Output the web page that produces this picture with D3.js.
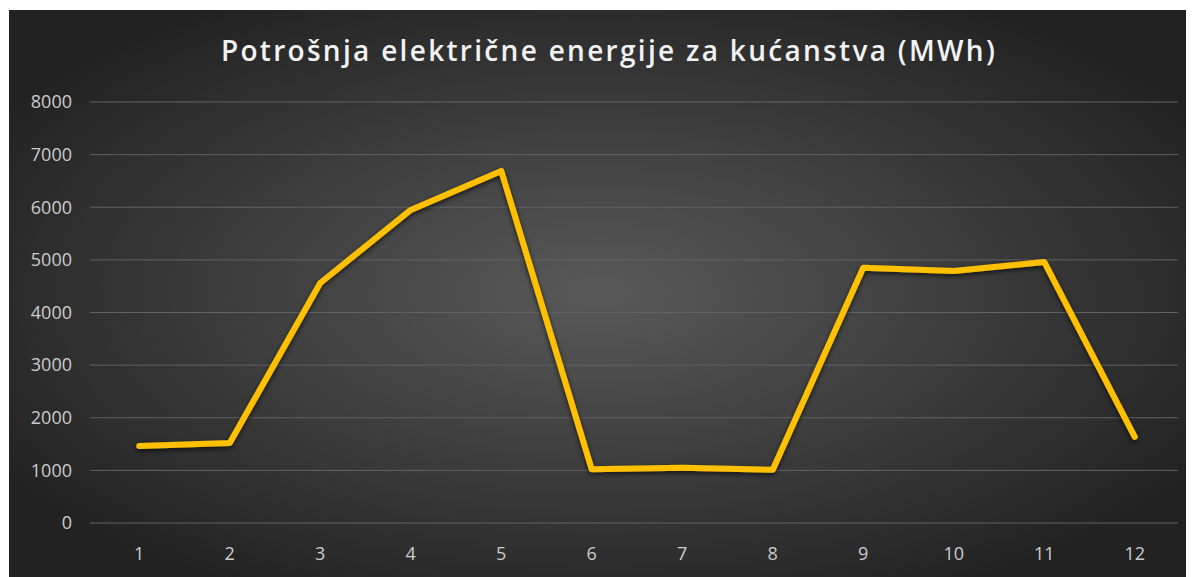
<!DOCTYPE html>
<html>
<head>
<meta charset="utf-8">
<script src="https://cdn.jsdelivr.net/npm/d3@7/dist/d3.min.js"></script>
<style>
  html, body { margin: 0; padding: 0; background: #fff; }
  svg { display: block; }
</style>
</head>
<body>
<div id="chart"></div>
<script>
// Monthly household electricity consumption (MWh)
const months = ['1', '2', '3', '4', '5', '6', '7', '8', '9', '10', '11', '12'];
const consumption = [1465, 1520, 4560, 5950, 6690, 1020, 1050, 1010, 4850, 4790, 4960, 1635];
const yTicks = [0, 1000, 2000, 3000, 4000, 5000, 6000, 7000, 8000];
const title = 'Potrošnja električne energije za kućanstva (MWh)';

const width = 1194, height = 577;
const margin = { top: 102, right: 14, bottom: 54, left: 94 };

const svg = d3.select('#chart')
    .append('svg')
    .attr('width', width)
    .attr('height', height);

const defs = svg.append('defs');

// Background gradient, lighter in the middle
const grad = defs.append('radialGradient')
    .attr('id', 'bg')
    .attr('cx', '50%').attr('cy', '50%').attr('r', '60%');
grad.append('stop').attr('offset', '0%').attr('stop-color', '#595959');
grad.append('stop').attr('offset', '100%').attr('stop-color', '#222222');

const shadow = defs.append('filter')
    .attr('id', 'shadow')
    .attr('x', '-10%').attr('y', '-10%').attr('width', '120%').attr('height', '130%');
shadow.append('feDropShadow')
    .attr('dx', 0).attr('dy', 2).attr('stdDeviation', 2.5)
    .attr('flood-color', '#000').attr('flood-opacity', 0.7);

svg.append('rect')
    .attr('x', 9).attr('y', 10)
    .attr('width', 1177).attr('height', height - 10)
    .attr('fill', 'url(#bg)');

const x = d3.scaleBand()
    .domain(months)
    .range([margin.left, width - margin.right]);

const y = d3.scaleLinear()
    .domain([0, 8000])
    .range([height - margin.bottom, margin.top]);

// Gridlines
svg.append('g')
    .selectAll('line')
    .data(yTicks)
    .join('line')
    .attr('x1', 90)
    .attr('x2', 1178)
    .attr('y1', d => y(d))
    .attr('y2', d => y(d))
    .attr('stroke', '#626262')
    .attr('stroke-width', 1);

// Y axis labels
const yAxis = svg.append('g')
    .attr('transform', `translate(${margin.left - 22},0)`)
    .call(d3.axisLeft(y).tickValues(yTicks).tickFormat(d3.format('d')).tickSize(0).tickPadding(0));
yAxis.select('.domain').remove();
yAxis.selectAll('text')
    .attr('fill', '#cccccc')
    .attr('font-family', '"Open Sans", sans-serif')
    .attr('font-size', '18px');

// X axis labels
const xAxis = svg.append('g')
    .attr('transform', `translate(0,${height - margin.bottom + 24})`)
    .call(d3.axisBottom(x).tickSize(0).tickPadding(0));
xAxis.select('.domain').remove();
xAxis.selectAll('text')
    .attr('fill', '#cccccc')
    .attr('font-family', '"Open Sans", sans-serif')
    .attr('font-size', '18px');

// Line
const line = d3.line()
    .x((d, i) => x(months[i]) + x.bandwidth() / 2)
    .y(d => y(d));

svg.append('path')
    .datum(consumption)
    .attr('d', line)
    .attr('fill', 'none')
    .attr('stroke', '#ffc000')
    .attr('stroke-width', 6)
    .attr('stroke-linejoin', 'round')
    .attr('stroke-linecap', 'round')
    .attr('filter', 'url(#shadow)');

// Title
svg.append('text')
    .attr('x', 609)
    .attr('y', 61)
    .attr('text-anchor', 'middle')
    .attr('fill', '#f2f2f2')
    .attr('font-family', '"Open Sans", sans-serif')
    .attr('font-weight', 600)
    .attr('font-size', '28px')
    .attr('letter-spacing', '2.3px')
    .text(title);
</script>
</body>
</html>
